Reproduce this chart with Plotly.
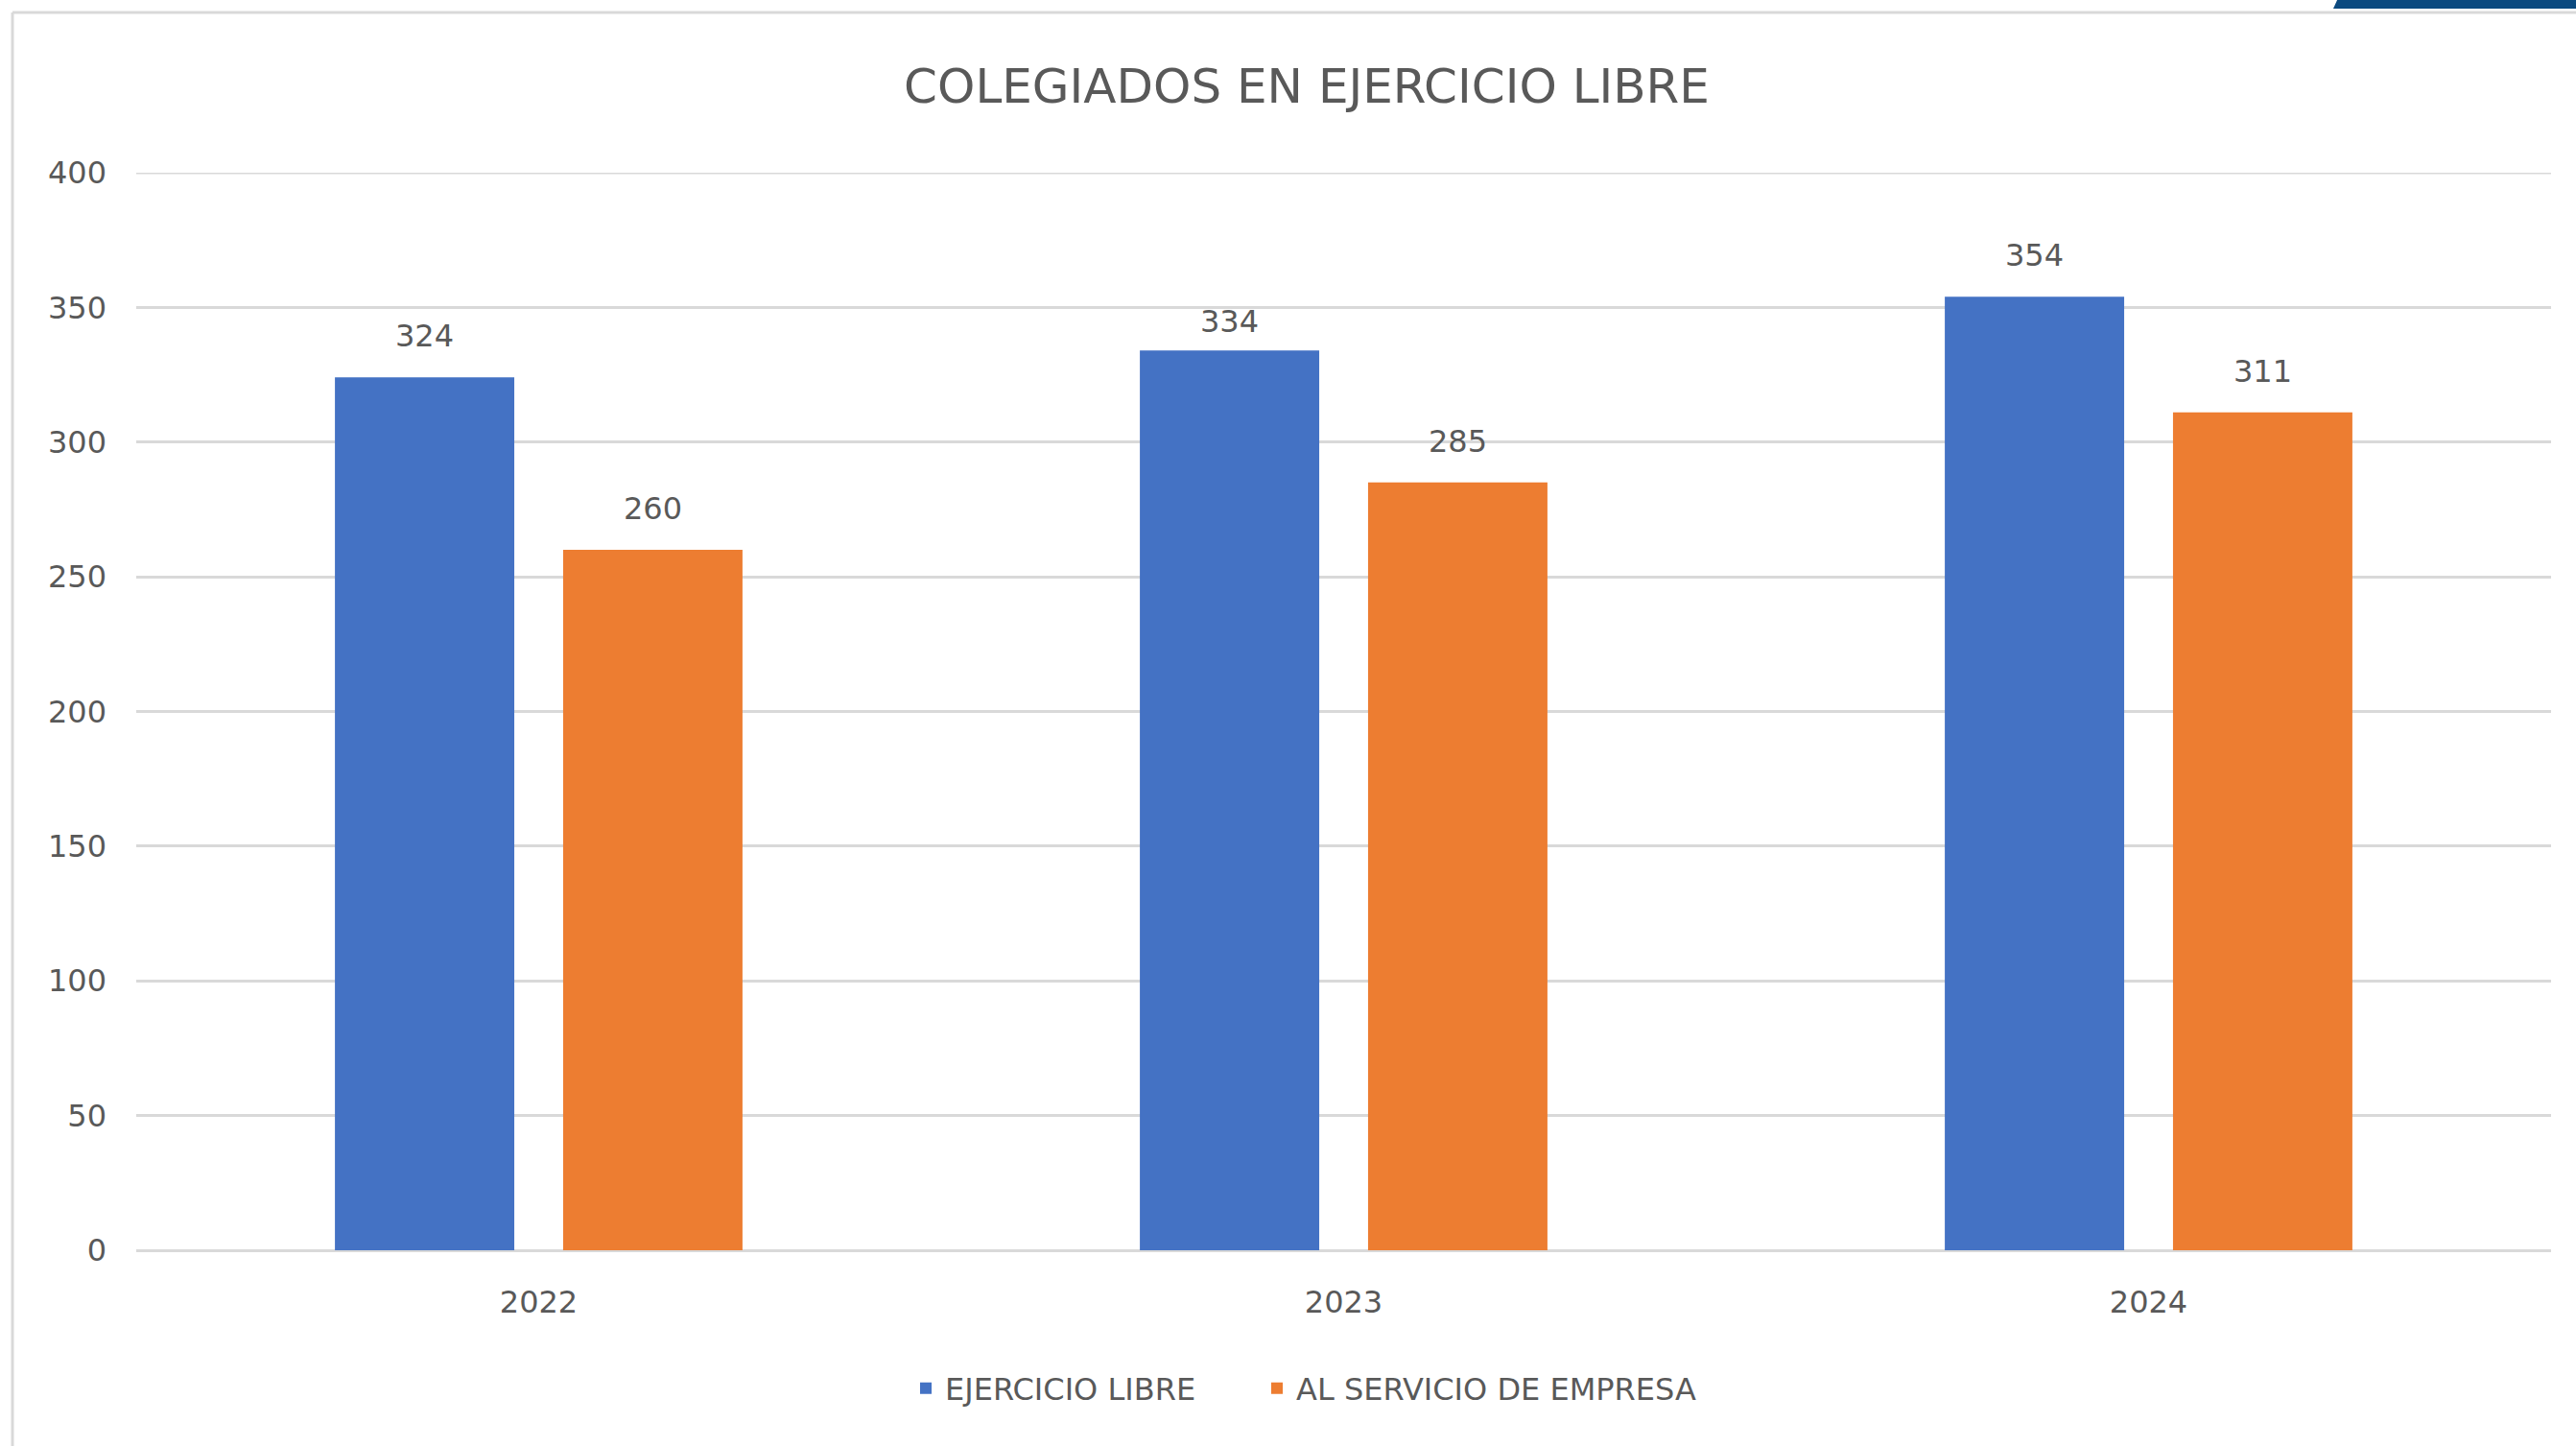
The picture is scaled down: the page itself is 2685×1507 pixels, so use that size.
import plotly.graph_objects as go

# ---- data ----
years = ["2022", "2023", "2024"]
series_names = ["EJERCICIO LIBRE", "AL SERVICIO DE EMPRESA"]
ejercicio_libre = [324, 334, 354]
al_servicio_empresa = [260, 285, 311]
y_ticks = [0, 50, 100, 150, 200, 250, 300, 350, 400]
title_text = "COLEGIADOS EN EJERCICIO LIBRE"

# ---- style ----
W, H = 2685, 1507
ML, MR, MT, MB = 142, 26, 180, 204
FONT = "DejaVu Sans, sans-serif"
TXT = "#595959"
GRID = "#d9d9d9"
BLUE = "#4472C4"
ORANGE = "#ED7D31"
BARGAP = 0.433
BARGROUPGAP = 0.214
LABEL_SHIFT = 22          # px between bar top and value label box
LABEL_NUDGE = {(1, 0): -13}  # (category index, series index) -> extra px shift
LEGEND_X_PX = [945, 1311]   # left edge of each legend entry

pw = W - ML - MR
ph = H - MT - MB


def px_x(p):
    return (p - ML) / pw


def px_y(p):
    return (H - MB - p) / ph


series = [(series_names[0], ejercicio_libre, BLUE),
          (series_names[1], al_servicio_empresa, ORANGE)]

fig = go.Figure()
annotations = []
n_series = len(series)
slot = (1 - BARGAP) / n_series
legend_ids = ["legend", "legend2"]
for s_idx, (name, vals, col) in enumerate(series):
    fig.add_trace(go.Bar(
        x=years, y=vals, name=name, marker=dict(color=col, line=dict(width=0)),
        legend=legend_ids[s_idx],
    ))
    offset = -(1 - BARGAP) / 2 + slot * (s_idx + 0.5)
    for c_idx, v in enumerate(vals):
        annotations.append(dict(
            x=c_idx + offset, y=v, xref="x", yref="y", text=str(v),
            showarrow=False, yanchor="bottom", xanchor="center",
            yshift=LABEL_SHIFT + LABEL_NUDGE.get((c_idx, s_idx), 0),
            font=dict(family=FONT, size=32, color=TXT),
        ))

shapes = [
    # chart frame (left + top)
    dict(type="line", xref="paper", yref="paper",
         x0=px_x(13), x1=px_x(13), y0=px_y(13), y1=px_y(H + 5),
         line=dict(color=GRID, width=3)),
    dict(type="line", xref="paper", yref="paper",
         x0=px_x(13), x1=px_x(W + 5), y0=px_y(13), y1=px_y(13),
         line=dict(color=GRID, width=3)),
    # 400 gridline (top edge of plot area)
    dict(type="line", xref="paper", yref="y", x0=0, x1=1, y0=400, y1=400,
         line=dict(color=GRID, width=3), layer="below"),
    # dark blue corner band
    dict(type="path", xref="paper", yref="paper",
         path=f"M {px_x(2437)} {px_y(-2)} L {px_x(W + 5)} {px_y(-2)} "
              f"L {px_x(W + 5)} {px_y(9)} L {px_x(2432)} {px_y(9)} Z",
         fillcolor="#0b4a80", line=dict(width=0)),
]

legend_style = dict(orientation="h", xanchor="left",
                    y=px_y(1447), yanchor="middle",
                    font=dict(family=FONT, size=32, color=TXT),
                    itemwidth=30, bgcolor="rgba(0,0,0,0)")

fig.update_layout(
    width=W, height=H,
    margin=dict(l=ML, r=MR, t=MT, b=MB),
    paper_bgcolor="white", plot_bgcolor="white",
    font=dict(family=FONT, color=TXT, size=32),
    title=dict(text=title_text, x=px_x(1362), xref="paper", xanchor="center",
               y=1 - 89 / H, yref="container", yanchor="middle",
               font=dict(family=FONT, size=50, color=TXT)),
    barmode="group", bargap=BARGAP, bargroupgap=BARGROUPGAP,
    showlegend=True,
    legend=dict(x=px_x(LEGEND_X_PX[0]), **legend_style),
    legend2=dict(x=px_x(LEGEND_X_PX[1]), **legend_style),
    shapes=shapes,
    annotations=annotations,
)
fig.update_yaxes(range=[0, 400], tickvals=y_ticks, showgrid=True,
                 gridcolor=GRID, gridwidth=3, zeroline=True,
                 zerolinecolor=GRID, zerolinewidth=3, showline=False,
                 ticks="", ticklabelstandoff=30,
                 tickfont=dict(family=FONT, size=32, color=TXT))
fig.update_xaxes(showgrid=False, showline=False, ticks="",
                 ticklabelstandoff=32,
                 tickfont=dict(family=FONT, size=32, color=TXT))

fig.write_html("out.html", config={"displayModeBar": False},
               post_script="document.body.style.margin='0';"
               "document.body.style.overflow='hidden';")
